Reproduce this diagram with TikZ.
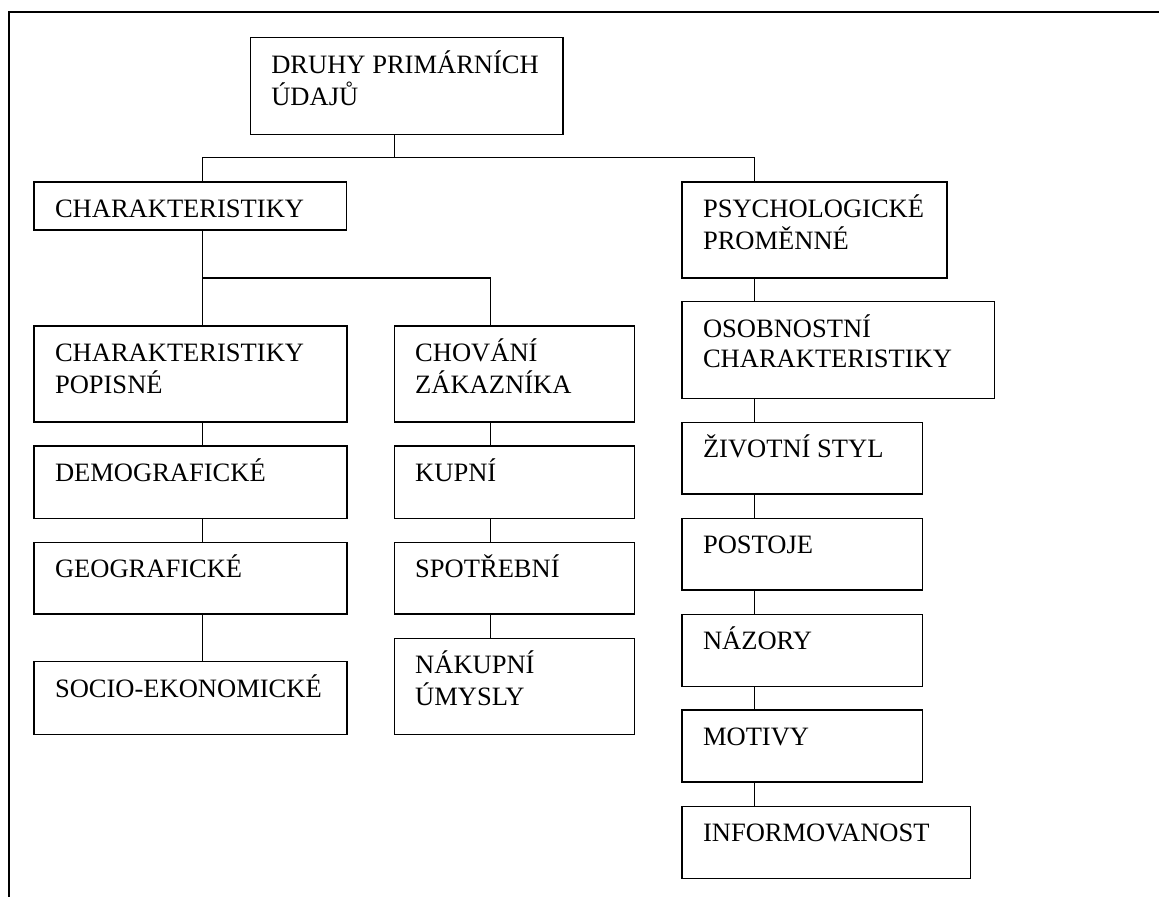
\documentclass[tikz,border=0pt]{standalone}
\usepackage{fontspec}
\setmainfont{Liberation Serif}
\newcommand{\tl}[1]{\begin{tabular}[t]{@{}l@{}}#1\end{tabular}}
\newcommand{\mybox}[6]{%
  \pgfmathsetmacro{\bw}{(#4-#2)*0.75}%
  \pgfmathsetmacro{\bh}{(#5-#3)*0.75}%
  \node[box,minimum width=\bw pt,minimum height=\bh pt,anchor=north west] (#1) at (#2,#3) {};
  \node[lbl] (#1-t) at ([shift={(21,35.3)}]#1.north west) {\tl{#6}};
}
\tikzset{
  box/.style={draw=black,line width=1pt,inner sep=0pt,outer sep=0pt,rectangle},
  lbl/.style={anchor=base west,inner sep=0pt,outer sep=0pt,font=\fontsize{19.9}{23.2}\selectfont},
  conn/.style={draw=black,line width=1pt},
  frame/.style={draw=black,line width=1.7pt}
}
\begin{document}
\begin{tikzpicture}[x=0.75pt,y=-0.75pt]
\useasboundingbox (0,0) rectangle (1159,896);
\draw[frame] (1162,12.3) -- (8.7,12.3) -- (8.7,900);
% column coordinates
\coordinate (colA) at (202.8,0);
\coordinate (colB) at (490.6,0);
\coordinate (colC) at (754.7,0);
\coordinate (rootx) at (394.6,0);
\coordinate (bus1) at (0,157.7);
\coordinate (bus2) at (0,278);
% boxes
\mybox{root}{250.3}{37.7}{563}{134.3}{DRUHY PRIMÁRNÍCH\\ÚDAJŮ}
\mybox{char}{34}{182}{346.7}{230}{CHARAKTERISTIKY}
\mybox{psych}{682}{182}{947}{278}{PSYCHOLOGICKÉ\\PROMĚNNÉ}
\mybox{popis}{34}{326}{347}{422}{CHARAKTERISTIKY\\POPISNÉ}
\mybox{demo}{34}{446}{347}{518.3}{DEMOGRAFICKÉ}
\mybox{geo}{34}{542.3}{347}{614}{GEOGRAFICKÉ}
\mybox{socio}{34}{661.7}{347}{734.3}{SOCIO-EKONOMICKÉ}
\mybox{chov}{394.2}{326}{634.6}{422}{CHOVÁNÍ\\ZÁKAZNÍKA}
\mybox{kup}{394.2}{446}{634.6}{518.3}{KUPNÍ}
\mybox{spot}{394.2}{542.3}{634.6}{614}{SPOTŘEBNÍ}
\mybox{nak}{394.2}{638.3}{634.6}{734.3}{NÁKUPNÍ\\ÚMYSLY}
\mybox{osob}{682}{301.7}{994.6}{398.3}{OSOBNOSTNÍ\\CHARAKTERISTIKY}
\mybox{ziv}{682}{422.3}{922.6}{494}{ŽIVOTNÍ STYL}
\mybox{post}{682}{518.3}{922.6}{590}{POSTOJE}
\mybox{naz}{682}{614.3}{922.6}{686.3}{NÁZORY}
\mybox{mot}{682}{710}{922.6}{782}{MOTIVY}
\mybox{inf}{682}{806.3}{970.8}{878.3}{INFORMOVANOST}
% connectors: top tree
\draw[conn] (root.south -| rootx) -- (rootx |- bus1);
\draw[conn] (char.north -| colA) -- (colA |- bus1) -- (colC |- bus1) -- (psych.north -| colC);
% characteristics split
\draw[conn] (char.south -| colA) -- (popis.north -| colA);
\draw[conn] (colA |- bus2) -- (colB |- bus2) -- (chov.north -| colB);
% column A
\draw[conn] (popis.south -| colA) -- (demo.north -| colA);
\draw[conn] (demo.south -| colA) -- (geo.north -| colA);
\draw[conn] (geo.south -| colA) -- (socio.north -| colA);
% column B
\draw[conn] (chov.south -| colB) -- (kup.north -| colB);
\draw[conn] (kup.south -| colB) -- (spot.north -| colB);
\draw[conn] (spot.south -| colB) -- (nak.north -| colB);
% column C
\draw[conn] (psych.south -| colC) -- (osob.north -| colC);
\draw[conn] (osob.south -| colC) -- (ziv.north -| colC);
\draw[conn] (ziv.south -| colC) -- (post.north -| colC);
\draw[conn] (post.south -| colC) -- (naz.north -| colC);
\draw[conn] (naz.south -| colC) -- (mot.north -| colC);
\draw[conn] (mot.south -| colC) -- (inf.north -| colC);
\end{tikzpicture}
\end{document}
